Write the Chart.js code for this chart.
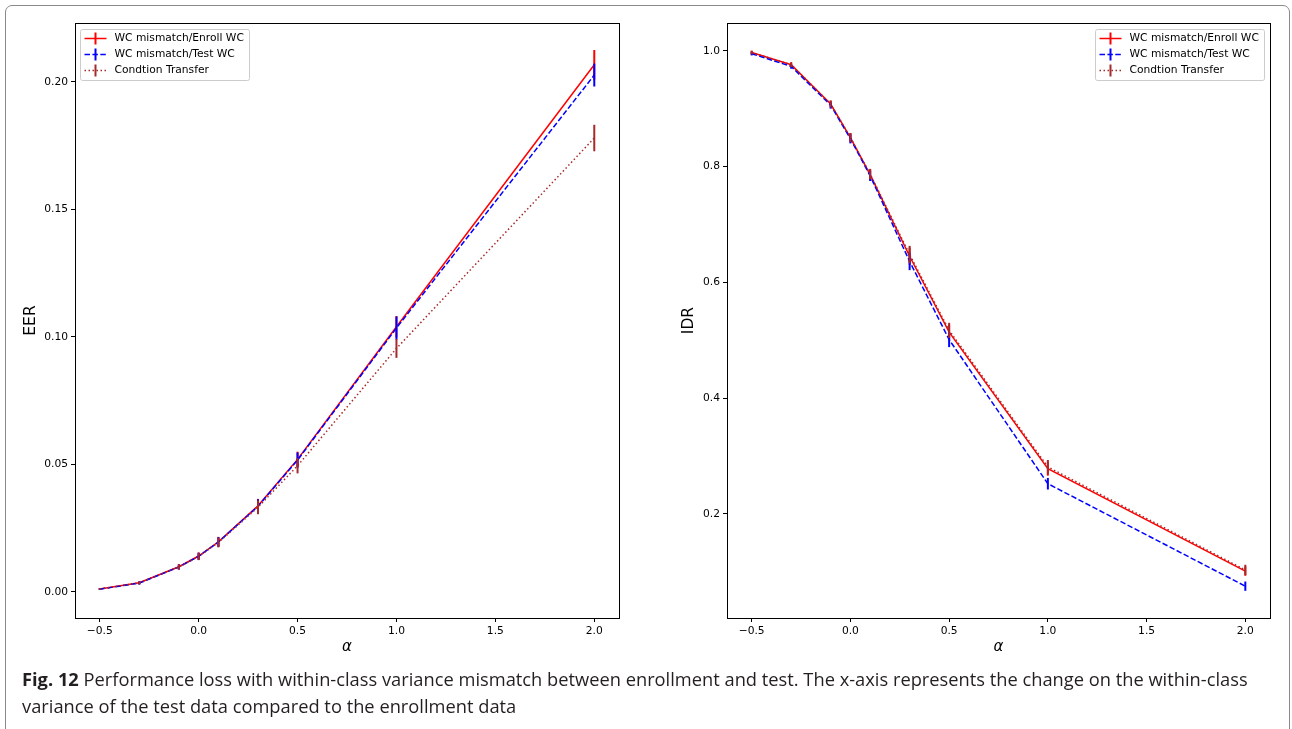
<!DOCTYPE html>
<html>
<head>
<meta charset="utf-8">
<script src="https://cdn.jsdelivr.net/npm/chart.js@4/dist/chart.umd.min.js"></script>
<style>
	body { margin:0; background:#fff; width:1292px; height:729px; overflow:hidden; position:relative; }
	#frame { position:absolute; left:5px; top:5px; width:1283px; height:740px; border:1px solid #8a8a8a; border-radius:7px; }
	canvas { position:absolute; top:0; }
	#left-chart { left:0; }
	#right-chart { left:650px; }
	#caption { position:absolute; left:22px; top:665px; font-family:'Open Sans', sans-serif; color:#231f20; line-height:27px; white-space:nowrap; }
	#caption b { font-weight:700; }
</style>
</head>
<body>
<div id="frame"></div>
<canvas id="left-chart" width="650" height="668"></canvas>
<canvas id="right-chart" width="642" height="668"></canvas>
<div id="caption">
	<div id="cap-line1"><b>Fig. 12</b> Performance loss with within-class variance mismatch between enrollment and test. The x-axis represents the change on the within-class</div>
	<div>variance of the test data compared to the enrollment data</div>
</div>
<script>
// alpha values on the x axis
const alphas = [-0.5, -0.3, -0.1, 0.0, 0.1, 0.3, 0.5, 1.0, 2.0];
const xTicks = [-0.5, 0.0, 0.5, 1.0, 1.5, 2.0];

// EER (left panel)
const eerEnroll = [0.0012, 0.0036, 0.0099, 0.0141, 0.0197, 0.0338, 0.0520, 0.1040, 0.2067];
const eerEnrollErr = [0.0003, 0.0006, 0.0010, 0.0014, 0.0019, 0.0027, 0.0030, 0.0042, 0.0058];
const eerTest = [0.0011, 0.0035, 0.0098, 0.0140, 0.0196, 0.0336, 0.0517, 0.1035, 0.2027];
const eerTestErr = [0.0003, 0.0006, 0.0010, 0.0014, 0.0019, 0.0027, 0.0030, 0.0045, 0.0045];
const eerTransfer = [0.0012, 0.0036, 0.0098, 0.0139, 0.0194, 0.0332, 0.0495, 0.0955, 0.1780];
const eerTransferErr = [0.0003, 0.0006, 0.0010, 0.0014, 0.0019, 0.0027, 0.0030, 0.0037, 0.0052];
const eerTicks = [0.00, 0.05, 0.10, 0.15, 0.20];

// IDR (right panel)
const idrEnroll = [0.997, 0.976, 0.908, 0.850, 0.786, 0.645, 0.514, 0.278, 0.101];
const idrEnrollErr = [0.003, 0.004, 0.006, 0.008, 0.009, 0.015, 0.013, 0.012, 0.008];
const idrTest = [0.995, 0.973, 0.906, 0.848, 0.784, 0.636, 0.501, 0.252, 0.075];
const idrTestErr = [0.003, 0.004, 0.006, 0.008, 0.009, 0.015, 0.013, 0.010, 0.008];
const idrTransfer = [0.997, 0.976, 0.908, 0.850, 0.787, 0.648, 0.517, 0.281, 0.103];
const idrTransferErr = [0.003, 0.004, 0.006, 0.008, 0.009, 0.015, 0.013, 0.012, 0.009];
const idrTicks = [0.2, 0.4, 0.6, 0.8, 1.0];

const seriesNames = ['WC mismatch/Enroll WC', 'WC mismatch/Test WC', 'Condtion Transfer'];
const seriesColors = ['#ff0000', '#0000ff', '#a52a2a'];
const seriesDash = [[], [5.5, 2.4], [1.5, 2.5]];

Chart.defaults.font.family = "'DejaVu Sans', sans-serif";
Chart.defaults.font.size = 10.7;
Chart.defaults.color = '#000';

const minus = s => s.replace('-', '\u2212');

// vertical error bars, drawn right after their own line
const errorBars = {
	id: 'errorBars',
	afterDatasetDraw(chart, args) {
		const ds = chart.data.datasets[args.index];
		if (!ds.errors) return;
		const xs = chart.scales.x, ys = chart.scales.y, ctx = chart.ctx;
		ctx.save();
		ctx.strokeStyle = ds.borderColor;
		ctx.lineWidth = 2;
		ds.data.forEach((p, i) => {
			const px = xs.getPixelForValue(p.x);
			ctx.beginPath();
			ctx.moveTo(px, ys.getPixelForValue(p.y - ds.errors[i]));
			ctx.lineTo(px, ys.getPixelForValue(p.y + ds.errors[i]));
			ctx.stroke();
		});
		ctx.restore();
	}
};

// closed box + matplotlib-like legend
const boxAndLegend = {
	id: 'boxAndLegend',
	afterDraw(chart, args, opts) {
		const {ctx, chartArea: a} = chart;
		ctx.save();
		ctx.strokeStyle = '#000';
		ctx.lineWidth = 1;
		ctx.strokeRect(Math.round(a.left) + 0.5, Math.round(a.top) + 0.5, Math.round(a.right - a.left), Math.round(a.bottom - a.top));

		const w = 169, h = 51;
		const bx = opts.side === 'left' ? a.left + 5.5 : a.right - 5.5 - w;
		const by = a.top + 6.5;
		ctx.fillStyle = 'rgba(255,255,255,0.8)';
		ctx.strokeStyle = '#cccccc';
		ctx.beginPath();
		ctx.roundRect(bx, by, w, h, 2);
		ctx.fill();
		ctx.stroke();

		ctx.font = "10.7px 'DejaVu Sans'";
		ctx.textBaseline = 'middle';
		seriesNames.forEach((name, i) => {
			const cy = by + 9 + i * 16;
			const x0 = bx + 4, x1 = bx + 26, xm = (x0 + x1) / 2;
			ctx.strokeStyle = seriesColors[i];
			ctx.lineWidth = 1.5;
			ctx.setLineDash(seriesDash[i]);
			ctx.beginPath();
			ctx.moveTo(x0, cy);
			ctx.lineTo(x1, cy);
			ctx.stroke();
			ctx.setLineDash([]);
			ctx.lineWidth = 2;
			ctx.beginPath();
			ctx.moveTo(xm, cy - 6);
			ctx.lineTo(xm, cy + 6);
			ctx.stroke();
			ctx.fillStyle = '#000';
			ctx.fillText(name, bx + 34, cy);
		});
		ctx.restore();
	}
};

function makeDatasets(values, errors) {
	return values.map((vals, i) => ({
		label: seriesNames[i],
		data: alphas.map((a, k) => ({x: a, y: vals[k]})),
		errors: errors[i],
		borderColor: seriesColors[i],
		borderDash: seriesDash[i],
		borderWidth: 1.5,
		pointRadius: 0,
		tension: 0,
		fill: false,
		order: 3 - i
	}));
}

function makeChart(id, opts) {
	return new Chart(document.getElementById(id), {
		type: 'line',
		data: { datasets: makeDatasets(opts.values, opts.errors) },
		plugins: [errorBars, boxAndLegend],
		options: {
			responsive: false,
			animation: false,
			devicePixelRatio: 1,
			layout: { padding: { top: 23, right: opts.padRight, left: 0, bottom: 0 } },
			plugins: {
				legend: { display: false },
				tooltip: { enabled: false },
				boxAndLegend: { side: opts.legendSide }
			},
			scales: {
				x: {
					type: 'linear',
					min: -0.625, max: 2.125,
					afterBuildTicks: s => { s.ticks = xTicks.map(v => ({value: v})); },
					afterFit: s => { s.height = 50; },
					ticks: { padding: 3, maxRotation: 0, callback: v => minus(v.toFixed(1)) },
					grid: { drawOnChartArea: false, tickLength: 4, color: '#000' },
					border: { color: '#000', width: 1 },
					title: { display: true, text: 'α', font: { size: 15, style: 'italic' }, padding: { top: 0, bottom: 12 } }
				},
				y: {
					min: opts.yMin, max: opts.yMax,
					afterBuildTicks: s => { s.ticks = opts.yTicks.map(v => ({value: v})); },
					afterFit: s => { s.width = opts.axisWidth; },
					ticks: { padding: 3, callback: v => v.toFixed(opts.digits) },
					grid: { drawOnChartArea: false, tickLength: 4, color: '#000' },
					border: { color: '#000', width: 1 },
					title: { display: true, text: opts.yTitle, font: { size: 15.5 }, padding: { top: opts.titlePad, bottom: 0 } }
				}
			}
		}
	});
}

makeChart('left-chart', {
	values: [eerEnroll, eerTest, eerTransfer],
	errors: [eerEnrollErr, eerTestErr, eerTransferErr],
	yMin: -0.0102, yMax: 0.2231, yTicks: eerTicks, digits: 2,
	yTitle: 'EER', titlePad: 21.5, axisWidth: 75, padRight: 31, legendSide: 'left'
});

makeChart('right-chart', {
	values: [idrEnroll, idrTest, idrTransfer],
	errors: [idrEnrollErr, idrTestErr, idrTransferErr],
	yMin: 0.020, yMax: 1.048, yTicks: idrTicks, digits: 1,
	yTitle: 'IDR', titlePad: 29.5, axisWidth: 77, padRight: 22, legendSide: 'right'
});

// fit the caption's first line to the printed width
const cap = document.getElementById('caption');
const line1 = document.getElementById('cap-line1');
let size = 19;
cap.style.fontSize = size + 'px';
while (line1.scrollWidth > 1232 && size > 10) {
	size -= 0.1;
	cap.style.fontSize = size + 'px';
}
</script>
</body>
</html>
